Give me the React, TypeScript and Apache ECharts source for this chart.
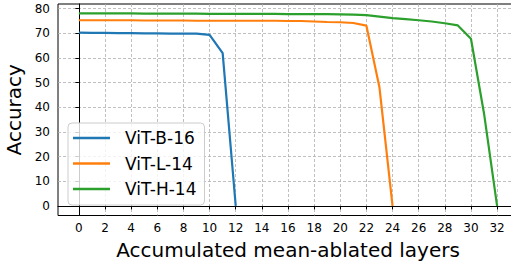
import React, { useEffect, useRef } from "react";
import * as echarts from "echarts";

const xTicks = [0, 2, 4, 6, 8, 10, 12, 14, 16, 18, 20, 22, 24, 26, 28, 30, 32];
const yTicks = [0, 10, 20, 30, 40, 50, 60, 70, 80];

const seriesNames = ["ViT-B-16", "ViT-L-14", "ViT-H-14"];
const vitB16 = [70.3, 70.2, 70.2, 70.1, 70.1, 70.0, 70.0, 69.9, 69.9, 69.9, 69.4, 62.0, 0];
const vitL14 = [
  75.3, 75.3, 75.3, 75.3, 75.3, 75.2, 75.2, 75.2, 75.2, 75.1, 75.1, 75.1, 75.1,
  75.1, 75.1, 75.1, 75.0, 75.0, 74.8, 74.6, 74.5, 74.2, 73.1, 48.0, 0,
];
const vitH14 = [
  78.1, 78.1, 78.1, 78.1, 78.1, 78.0, 78.0, 78.0, 78.0, 78.0, 77.9, 77.9, 77.9,
  77.9, 77.9, 77.9, 77.8, 77.8, 77.8, 77.8, 77.7, 77.6, 77.4, 76.8, 76.2, 75.8,
  75.3, 74.8, 74.1, 73.2, 67.8, 37.5, 0,
];
const colors = ["#1f77b4", "#ff7f0e", "#2ca02c"];

const toPairs = (arr: number[]) => arr.map((v, i) => [i, v]);

export default function App() {
  const ref = useRef<HTMLDivElement>(null);
  useEffect(() => {
    if (!ref.current) return;
    const chart = echarts.init(ref.current, null, { renderer: "svg" });
    const font = "DejaVu Sans";
    const gridLine = { show: true, lineStyle: { color: "#b0b0b0", width: 0.8, type: [3, 2] as any } };
    chart.setOption({
      animation: false,
      textStyle: { fontFamily: font },
      grid: {
        left: 58,
        right: -7,
        top: 4,
        bottom: 46.5,
        containLabel: false,
        outerBoundsMode: "none",
        show: true,
        borderColor: "#000",
        borderWidth: 1,
        backgroundColor: "transparent",
      },
      legend: {
        orient: "vertical",
        left: 68,
        top: 123,
        data: seriesNames,
        icon: "rect",
        itemWidth: 37,
        itemHeight: 2.5,
        itemGap: 5.5,
        padding: [5, 8, 6, 5],
        borderColor: "#cccccc",
        borderWidth: 1,
        borderRadius: 4,
        backgroundColor: "rgba(255,255,255,0.8)",
        textStyle: { fontSize: 17, color: "#000", fontFamily: font, lineHeight: 20, padding: [0, 0, 0, 10] },
      },
      xAxis: {
        type: "value",
        min: -1.6,
        max: 33.6,
        name: "Accumulated mean-ablated layers",
        nameLocation: "middle",
        nameGap: 24,
        nameTextStyle: { fontSize: 20, color: "#000", fontFamily: font },
        axisLine: { show: true, lineStyle: { color: "#000", width: 1 } },
        axisTick: { show: true, length: 3.5, lineStyle: { color: "#000" }, customValues: xTicks },
        axisLabel: { fontSize: 12, color: "#000", margin: 6, customValues: xTicks, fontFamily: font },
        splitLine: gridLine,
      },
      yAxis: {
        type: "value",
        min: -3.9,
        max: 81.9,
        name: "Accuracy",
        nameLocation: "middle",
        nameGap: 32,
        nameTextStyle: { fontSize: 20, color: "#000", fontFamily: font },
        axisLine: { show: true, lineStyle: { color: "#000", width: 1 } },
        axisTick: { show: true, length: 3.5, lineStyle: { color: "#000" }, customValues: yTicks },
        axisLabel: { fontSize: 12, color: "#000", margin: 8, customValues: yTicks, fontFamily: font },
        splitLine: gridLine,
      },
      series: [vitB16, vitL14, vitH14].map((d, i) => ({
        name: seriesNames[i],
        type: "line",
        data: toPairs(d),
        showSymbol: false,
        symbol: "none",
        color: colors[i],
        lineStyle: { color: colors[i], width: 2.2 },
      })),
    });
    return () => chart.dispose();
  }, []);
  return <div ref={ref} style={{ width: 511, height: 262, position: "absolute", left: 0, top: 0 }} />;
}
